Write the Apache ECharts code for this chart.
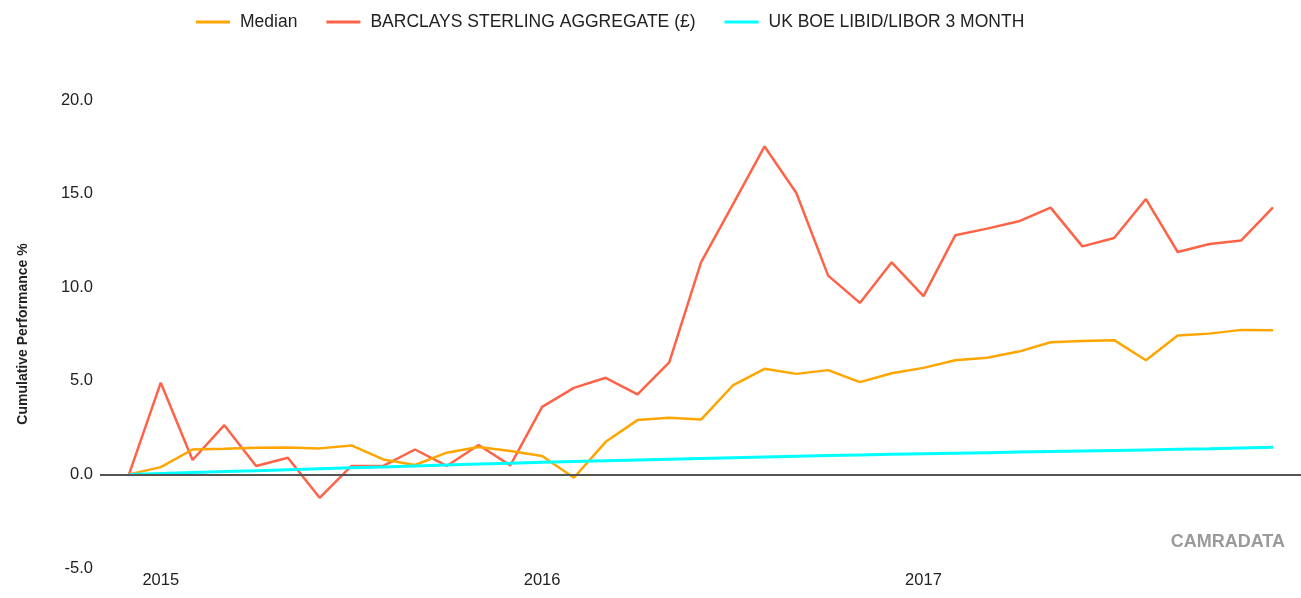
<!DOCTYPE html>
<html>
<head>
<meta charset="utf-8">
<script src="https://cdn.jsdelivr.net/npm/echarts@6/dist/echarts.min.js"></script>
<style>
  html, body { margin: 0; padding: 0; background: #fff; }
  #chart { width: 1301px; height: 598px; }
</style>
</head>
<body>
<div id="chart"></div>
<script>
// month ends, Dec 2014 .. Dec 2017
const months = [
  '2014-12',
  '2015-01', '2015-02', '2015-03', '2015-04', '2015-05', '2015-06',
  '2015-07', '2015-08', '2015-09', '2015-10', '2015-11', '2015-12',
  '2016-01', '2016-02', '2016-03', '2016-04', '2016-05', '2016-06',
  '2016-07', '2016-08', '2016-09', '2016-10', '2016-11', '2016-12',
  '2017-01', '2017-02', '2017-03', '2017-04', '2017-05', '2017-06',
  '2017-07', '2017-08', '2017-09', '2017-10', '2017-11', '2017-12'
]

// year labels sit on the January points
const yearTicks = [1, 13, 25]
const yearLabels = ['2015', '2016', '2017']

const median = [
  0, 0.39, 1.33, 1.37, 1.42, 1.44, 1.39, 1.55, 0.80, 0.50, 1.16, 1.46, 1.25,
  0.98, -0.18, 1.74, 2.90, 3.02, 2.93, 4.75, 5.64, 5.37, 5.57, 4.93, 5.40,
  5.69, 6.10, 6.23, 6.56, 7.06, 7.13, 7.17, 6.10, 7.42, 7.52, 7.72, 7.70
]

const barclays = [
  0, 4.90, 0.77, 2.63, 0.45, 0.89, -1.25, 0.45, 0.45, 1.33, 0.45, 1.57, 0.48,
  3.61, 4.62, 5.16, 4.27, 5.99, 11.33, 14.41, 17.52, 15.03, 10.62, 9.16, 11.33,
  9.52, 12.77, 13.13, 13.52, 14.25, 12.18, 12.63, 14.71, 11.88, 12.31, 12.50, 14.27
]

const libor = [
  0, 0.05, 0.10, 0.15, 0.20, 0.25, 0.30, 0.35, 0.40, 0.45, 0.50, 0.55, 0.60,
  0.65, 0.69, 0.73, 0.77, 0.81, 0.85, 0.89, 0.93, 0.97, 1.01, 1.04, 1.07,
  1.10, 1.13, 1.16, 1.19, 1.22, 1.25, 1.28, 1.31, 1.34, 1.37, 1.41, 1.45
]

const seriesNames = ['Median', 'BARCLAYS STERLING AGGREGATE (£)', 'UK BOE LIBID/LIBOR 3 MONTH']
const colors = ['#FFA500', '#FF6347', '#00FFFF']

let toPoints = arr => arr.map((v, i) => [i, v])

let mychart = echarts.init(document.getElementById('chart'))

const font = 'Liberation Sans, Arial, sans-serif'

let option = {
  animation: false,
  color: colors,
  textStyle: { fontFamily: font },
  legend: {
    left: 191,
    top: 8,
    icon: 'rect',
    itemWidth: 34,
    itemHeight: 3,
    itemGap: 29,
    textStyle: {
      fontFamily: font,
      fontSize: 17.5,
      color: '#222',
      padding: [0, 0, 0, 5]
    },
    data: seriesNames
  },
  grid: {
    left: 100,
    right: 0,
    top: 100,
    bottom: 30,
    containLabel: false
  },
  xAxis: {
    type: 'value',
    min: -0.912,
    max: 36.88,
    axisLine: { show: false },
    axisTick: { show: false },
    splitLine: { show: false },
    axisLabel: {
      customValues: yearTicks,
      formatter: v => yearLabels[yearTicks.indexOf(v)] || '',
      fontFamily: font,
      fontSize: 16.5,
      color: '#222',
      margin: 4
    }
  },
  yAxis: {
    type: 'value',
    min: -5,
    max: 20,
    interval: 5,
    name: 'Cumulative Performance %',
    nameLocation: 'middle',
    nameGap: 70,
    nameTextStyle: {
      fontFamily: font,
      fontWeight: 'bold',
      fontSize: 14,
      color: '#222'
    },
    axisLine: { show: false },
    axisTick: { show: false },
    splitLine: { show: false },
    axisLabel: {
      formatter: v => v.toFixed(1),
      fontFamily: font,
      fontSize: 16.5,
      color: '#222',
      margin: 7
    }
  },
  graphic: [
    {
      type: 'text',
      right: 16,
      top: 533,
      style: {
        text: 'CAMRADATA',
        fontFamily: font,
        fontWeight: 'bold',
        fontSize: 18,
        fill: '#9a9a9a'
      }
    }
  ],
  series: [
    {
      name: seriesNames[0],
      type: 'line',
      data: toPoints(median),
      showSymbol: false,
      lineStyle: { width: 2.5 },
      z: 3,
      // zero line across the plot
      markLine: {
        silent: true,
        symbol: 'none',
        label: { show: false },
        lineStyle: { color: '#555', width: 2, type: 'solid' },
        data: [{ yAxis: 0 }]
      }
    },
    {
      name: seriesNames[1],
      type: 'line',
      data: toPoints(barclays),
      showSymbol: false,
      lineStyle: { width: 2.5 },
      z: 2
    },
    {
      name: seriesNames[2],
      type: 'line',
      data: toPoints(libor),
      showSymbol: false,
      lineStyle: { width: 3 },
      z: 4
    }
  ]
}

mychart.setOption(option)
</script>
</body>
</html>
